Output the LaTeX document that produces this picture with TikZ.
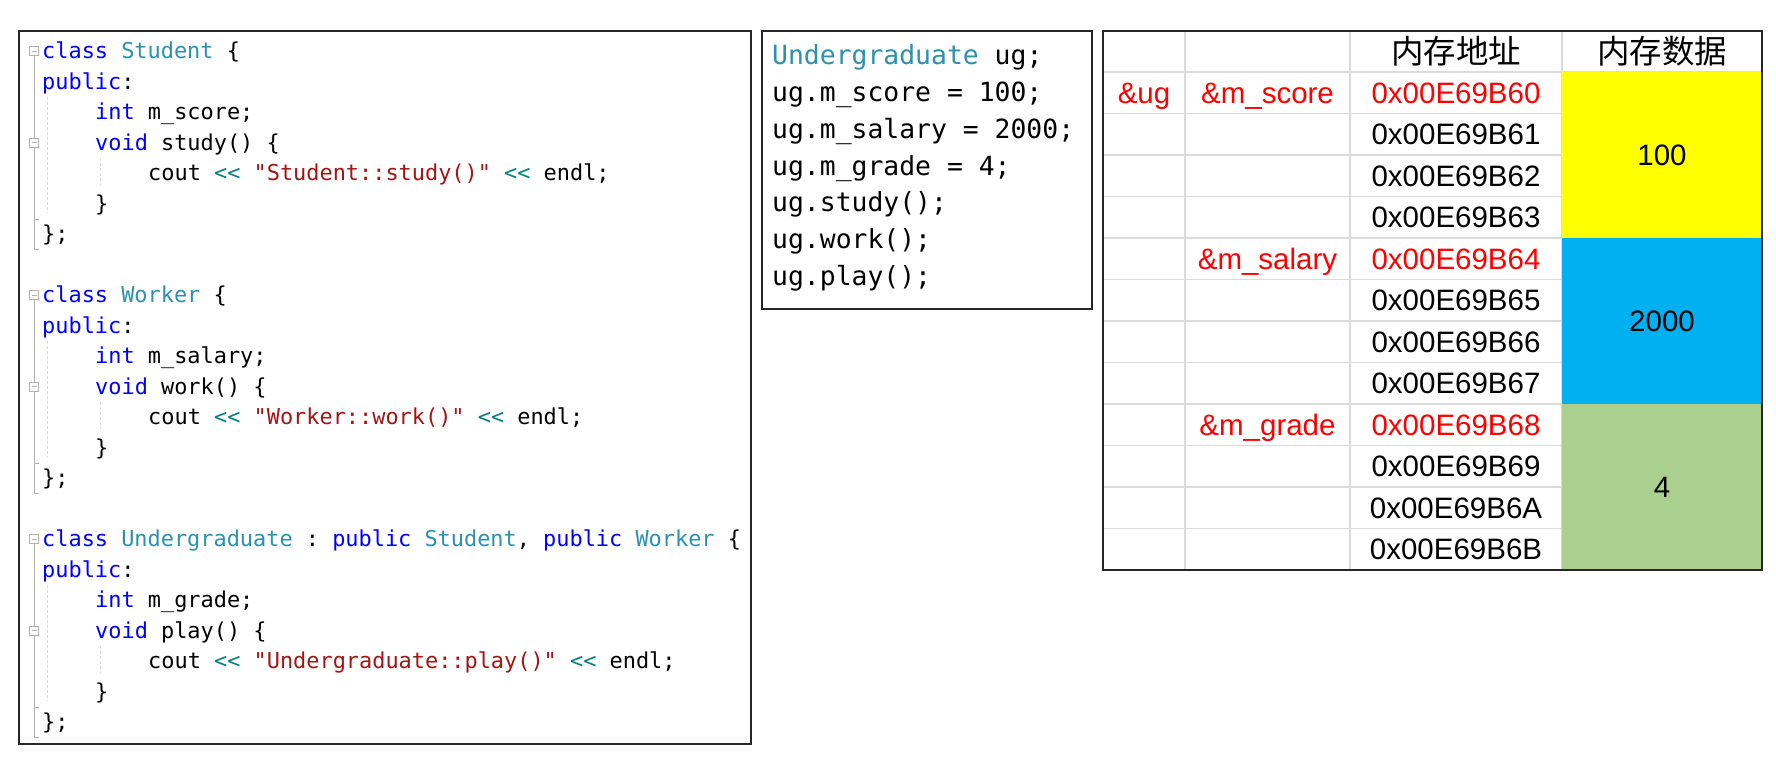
\documentclass[tikz,border=0pt]{standalone}
\usepackage{fontspec}
\setmainfont{Liberation Sans}
\setmonofont{DejaVu Sans Mono}
\newfontfamily\cjk{Noto Sans CJK SC}
\definecolor{kwblue}{HTML}{0000FF}
\definecolor{tyteal}{HTML}{2B91AF}
\definecolor{strred}{HTML}{A31515}
\definecolor{opteal}{HTML}{008080}
\definecolor{cellyellow}{HTML}{FFFF00}
\definecolor{cellblue}{HTML}{00B0F0}
\definecolor{cellgreen}{HTML}{A9D08E}
\definecolor{addrred}{HTML}{FF0000}
\newcommand\ckw[1]{\textcolor{kwblue}{#1}}
\newcommand\cty[1]{\textcolor{tyteal}{#1}}
\newcommand\cstr[1]{\textcolor{strred}{#1}}
\newcommand\cop[1]{\textcolor{opteal}{#1}}
\tikzset{
  codeL/.style={anchor=base west, inner sep=0pt, font=\ttfamily\fontsize{21.9}{26}\selectfont},
  codeM/.style={anchor=base west, inner sep=0pt, font=\ttfamily\fontsize{26.4}{30}\selectfont},
  cell/.style={anchor=base, inner sep=0pt, font=\fontsize{29.5}{34}\selectfont},
  redcell/.style={cell, text=addrred},
  hdr/.style={anchor=base, inner sep=0pt, font=\cjk\fontsize{32.5}{38}\selectfont},
  panel/.style={draw=black!85, line width=1.5pt},
  gridline/.style={draw=black!14, line width=1.5pt},
  guide/.style={draw=gray!60, line width=1pt},
  iguide/.style={draw=gray!30, line width=1pt, dash pattern=on 3pt off 2pt},
  foldmark/.pic={
    \draw[gray!60, fill=white, line width=0.8pt] (-4.5,-4.5) rectangle (4.5,4.5);
    \draw[gray!60, line width=0.8pt] (-2.5,0) -- (2.5,0);
  }
}
\begin{document}
\begin{tikzpicture}[x=1pt, y=-1pt]
\useasboundingbox (0,0) rectangle (1776,764);
\fill[white] (0,0) rectangle (1776,764);

% ---------- left panel: class definitions ----------
\draw[panel] (19,31) rectangle (751,744);
\foreach \c in {51,295,539}{
  \draw[guide] (34,\c+5) -- (34,\c+198) -- (39,\c+198);
  \draw[guide] (34,\c+168) -- (39,\c+168);
  \draw[iguide] (47,\c+46) -- (47,\c+162);
  \draw[iguide] (100,\c+107) -- (100,\c+134);
  \pic at (34,\c) {foldmark};
  \pic at (34,\c+91.5) {foldmark};
}
\node[codeL] (s0) at (42,58.5)  {\ckw{class} \cty{Student} \{};
\node[codeL] (s1) at (42,89)    {\ckw{public}:};
\node[codeL] (s2) at (95,119.5) {\ckw{int} m\_score;};
\node[codeL] (s3) at (95,150)   {\ckw{void} study() \{};
\node[codeL] (s4) at (148,180.5){cout \cop{<<} \cstr{"Student::study()"} \cop{<<} endl;};
\node[codeL] (s5) at (95,211)   {\}};
\node[codeL] (s6) at (42,241.5) {\};};

\node[codeL] (w0) at (42,302.5) {\ckw{class} \cty{Worker} \{};
\node[codeL] (w1) at (42,333)   {\ckw{public}:};
\node[codeL] (w2) at (95,363.5) {\ckw{int} m\_salary;};
\node[codeL] (w3) at (95,394)   {\ckw{void} work() \{};
\node[codeL] (w4) at (148,424.5){cout \cop{<<} \cstr{"Worker::work()"} \cop{<<} endl;};
\node[codeL] (w5) at (95,455)   {\}};
\node[codeL] (w6) at (42,485.5) {\};};

\node[codeL] (u0) at (42,546.5) {\ckw{class} \cty{Undergraduate} : \ckw{public} \cty{Student}, \ckw{public} \cty{Worker} \{};
\node[codeL] (u1) at (42,577)   {\ckw{public}:};
\node[codeL] (u2) at (95,607.5) {\ckw{int} m\_grade;};
\node[codeL] (u3) at (95,638)   {\ckw{void} play() \{};
\node[codeL] (u4) at (148,668.5){cout \cop{<<} \cstr{"Undergraduate::play()"} \cop{<<} endl;};
\node[codeL] (u5) at (95,699)   {\}};
\node[codeL] (u6) at (42,729.5) {\};};

% ---------- middle panel: usage ----------
\draw[panel] (762,31) rectangle (1092,309);
\node[codeM] (m0) at (772,64.3)  {\cty{Undergraduate} ug;};
\node[codeM] (m1) at (772,101.2) {ug.m\_score = 100;};
\node[codeM] (m2) at (772,138.1) {ug.m\_salary = 2000;};
\node[codeM] (m3) at (772,175)   {ug.m\_grade = 4;};
\node[codeM] (m4) at (772,211.9) {ug.study();};
\node[codeM] (m5) at (772,248.8) {ug.work();};
\node[codeM] (m6) at (772,285.7) {ug.play();};

% ---------- right panel: memory table ----------
\foreach \k in {0,...,11}{
  \draw[gridline] (1103,72+41.5*\k) -- (1762,72+41.5*\k);
}
\foreach \xx in {1185,1350,1562}{
  \draw[gridline] (\xx,31) -- (\xx,570);
}
\fill[cellyellow] (1562,72) rectangle (1762,238);
\fill[cellblue]   (1562,238) rectangle (1762,404);
\fill[cellgreen]  (1562,404) rectangle (1762,570);
\draw[panel] (1103,31) rectangle (1762,570);

\node[hdr] (h1) at (1456,63.5) {内存地址};
\node[hdr] (h2) at (1662,63.5) {内存数据};

\node[redcell] (ug)  at (1144,103.25) {\&ug};
\node[redcell] (ms)  at (1267.5,103.25) {\&m\_score};
\node[redcell] (msa) at (1267.5,269.25) {\&m\_salary};
\node[redcell] (mg)  at (1267.5,435.25) {\&m\_grade};

\foreach \k/\a/\s in {0/60/redcell,1/61/cell,2/62/cell,3/63/cell,
                      4/64/redcell,5/65/cell,6/66/cell,7/67/cell,
                      8/68/redcell,9/69/cell,10/6A/cell,11/6B/cell}{
  \node[\s] (addr\k) at (1456,103.25+41.5*\k) {0x00E69B\a};
}
\node[cell] (v1) at (1662,165.5) {100};
\node[cell] (v2) at (1662,331.5) {2000};
\node[cell] (v3) at (1662,497.5) {4};
\end{tikzpicture}
\end{document}
